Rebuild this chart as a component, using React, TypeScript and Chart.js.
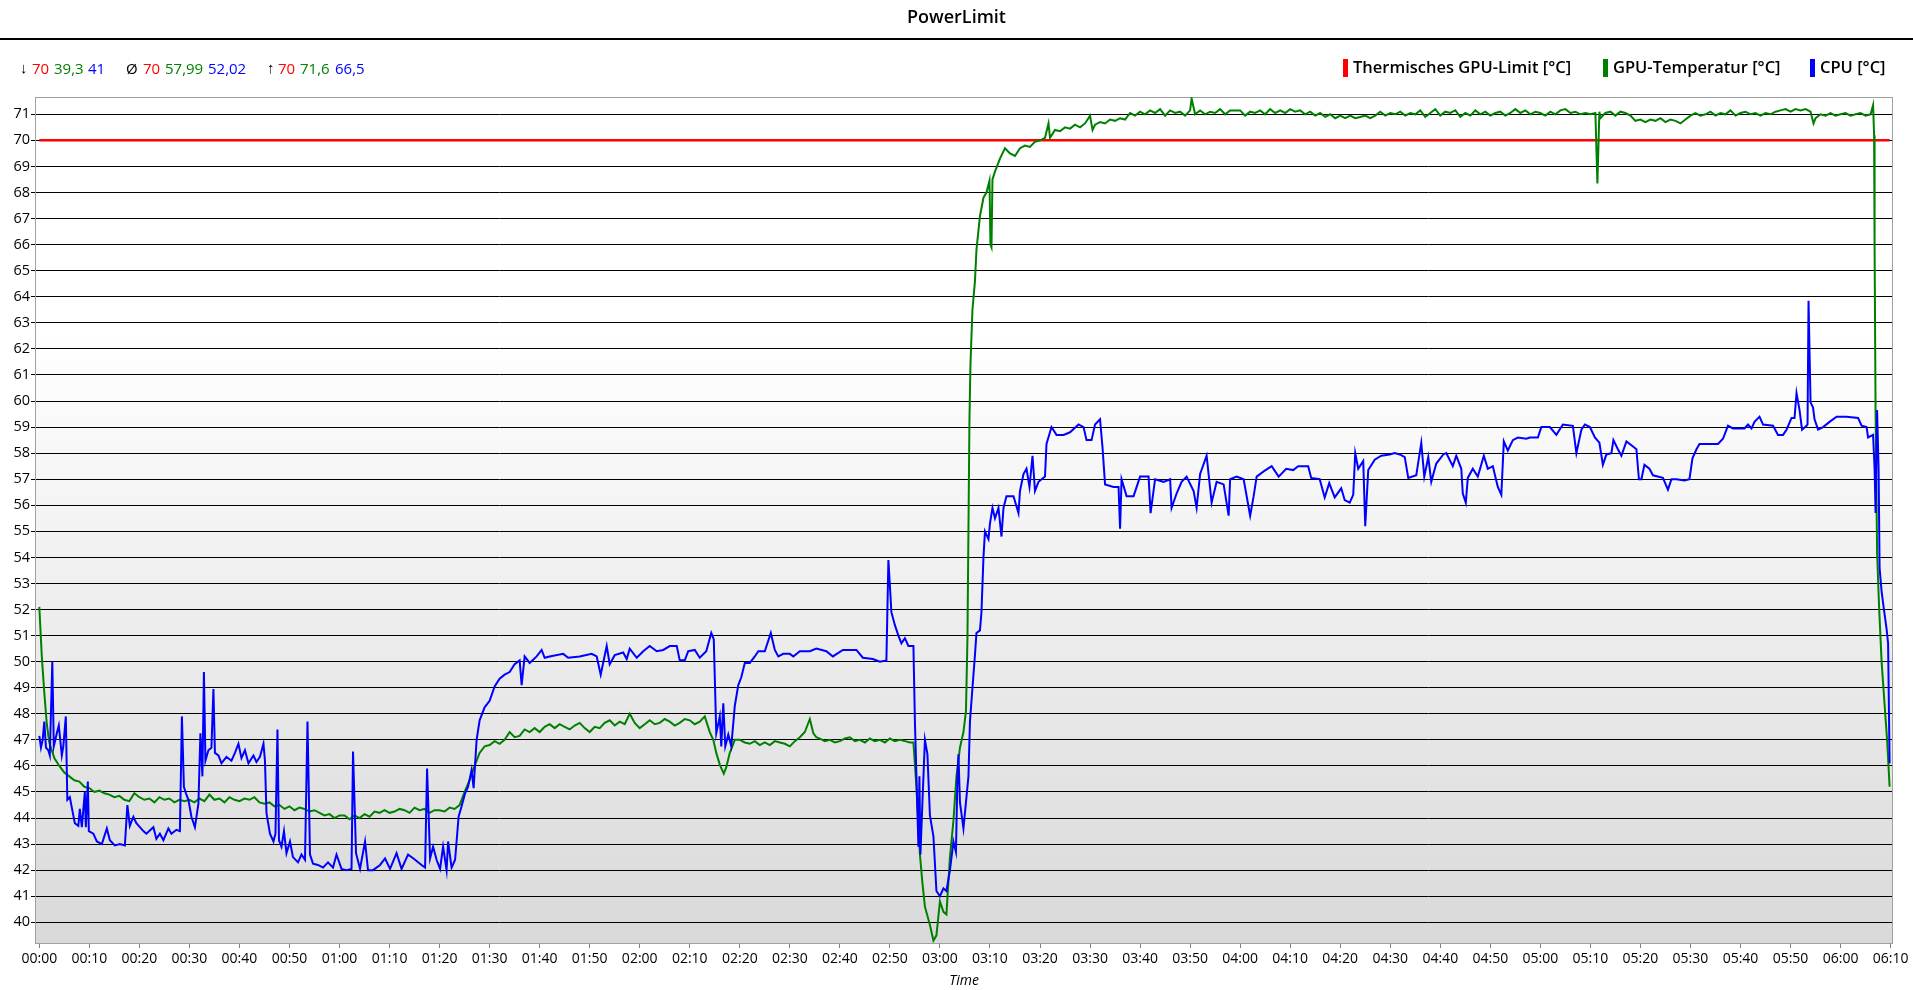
import React, { useEffect, useRef } from "react";
import { Chart, registerables } from "chart.js";

Chart.register(...registerables);

const FONT = '"Open Sans", "Noto Sans", "DejaVu Sans", sans-serif';
const ARROW_FONT = '"Liberation Sans", "Open Sans", sans-serif';

// ---- DATA ----
const xTickMinutes = [0, 10, 20, 30, 40, 50, 60, 70, 80, 90, 100, 110, 120, 130, 140, 150, 160, 170, 180, 190, 200, 210, 220, 230, 240, 250, 260, 270, 280, 290, 300, 310, 320, 330, 340, 350, 360, 370];
const yTickValues = [40, 41, 42, 43, 44, 45, 46, 47, 48, 49, 50, 51, 52, 53, 54, 55, 56, 57, 58, 59, 60, 61, 62, 63, 64, 65, 66, 67, 68, 69, 70, 71];

const seriesNames = ["Thermisches GPU-Limit [°C]", "GPU-Temperatur [°C]", "CPU [°C]"];
const seriesColors = ["#ff0000", "#008000", "#0000ff"];

const statSymbols = ["↓", "Ø", "↑"];
const statLimit = ["70", "70", "70"];
const statGpu = ["39,3", "57,99", "71,6"];
const statCpu = ["41", "52,02", "66,5"];

const limitTime = [0, 369.8];
const limitTemp = [70, 70];

const gpuTime = [
  0, 0.5, 1, 1.5, 2, 3, 4, 5, 6, 7, 8, 9, 10, 11, 12, 13, 14, 15, 16, 17, 18, 19, 20,
  21, 22, 23, 24, 25, 26, 27, 28, 29, 30, 31, 32, 33, 34, 35, 36, 37, 38, 39, 40,
  41, 42, 43, 44, 45, 46, 47, 48, 49, 50, 51, 52, 53, 54, 55, 56, 57, 58, 59, 60,
  61, 62, 63, 64, 65, 66, 67, 68, 69, 70, 71, 72, 73, 74, 75, 76, 77, 78, 79, 80,
  81, 82, 83, 84, 85, 86, 87, 88, 89, 90, 91, 92, 93, 94, 95, 96, 97, 98, 99, 100,
  101, 102, 103, 104, 105, 106, 107, 108, 109, 110, 111, 112, 113, 114, 115, 116, 117, 118, 119, 120,
  121, 122, 123, 124, 125, 126, 127, 128, 129, 130, 131, 132, 133,
  134, 134.7, 135.3, 136, 136.8, 137.3, 138, 139, 140, 141, 142, 143, 144, 145, 146, 147, 148, 149, 150,
  151, 152, 153, 154, 154.7, 155.3, 156, 157, 158, 159, 160, 161, 162, 163, 164, 165, 166, 167, 168, 169, 170,
  171, 172, 173, 174, 174.7, 175.3, 176, 176.5, 177, 178, 178.7, 179.3, 180, 180.7, 181.3, 182, 182.7, 183.3, 184, 184.7,
  185.2, 185.5, 185.7, 185.9, 186.1, 186.5, 187, 187.3, 188, 188.7, 189.3, 189.9, 190.1, 190.3, 190.5, 191, 192, 193, 194, 195,
  196, 197, 198, 199, 200, 201, 201.7, 202, 203, 204, 205, 206, 207, 208, 209, 210, 210.5, 211, 212, 213,
  214, 215, 216, 217, 218, 219, 220, 221, 222, 223, 224, 225, 226, 227, 228, 229, 230, 230.3, 231, 232,
  233, 234, 235, 236, 237, 238, 239, 240, 241, 242, 243, 244, 245, 246, 247, 248, 249, 250, 251, 252,
  253, 254, 255, 256, 257, 258, 259, 260, 261, 262, 263, 264, 265, 266, 267, 268, 269, 270, 271, 272,
  273, 274, 275, 276, 277, 278, 279, 280, 281, 282, 283, 284, 285, 286, 287, 288, 289, 290, 291, 292,
  293, 294, 295, 296, 297, 298, 299, 300, 301, 302, 303, 304, 305, 306, 307, 308, 309, 310, 311, 311.4,
  311.8, 312, 313, 314, 315, 316, 317, 318, 319, 320, 321, 322, 323, 324, 325, 326, 327, 328, 329, 330,
  331, 332, 333, 334, 335, 336, 337, 338, 339, 340, 341, 342, 343, 344, 345, 346, 347, 348, 349, 350,
  351, 352, 353, 354, 354.6, 355, 356, 357, 358, 359, 360, 361, 362, 363, 364, 365, 366, 366.5, 366.7, 366.8,
  367, 367.3, 367.7, 368.2, 368.8, 369.3, 369.8
];
const gpuTemp = [
  52.1, 50.2, 48.8, 47.6, 46.9, 46.3, 46.0, 45.75, 45.6, 45.45, 45.4, 45.2, 45.15, 45.0, 45.05, 44.95, 44.9, 44.8, 44.85, 44.7, 44.65, 44.95, 44.8,
  44.7, 44.75, 44.6, 44.8, 44.7, 44.75, 44.6, 44.7, 44.65, 44.7, 44.6, 44.75, 44.65, 44.9, 44.7, 44.75, 44.6, 44.8, 44.7, 44.65,
  44.75, 44.7, 44.8, 44.6, 44.55, 44.6, 44.45, 44.5, 44.35, 44.45, 44.3, 44.4, 44.35, 44.25, 44.3, 44.2, 44.1, 44.15, 44.0, 44.1,
  44.1, 43.95, 44.1, 44.0, 44.15, 44.05, 44.25, 44.2, 44.3, 44.2, 44.25, 44.35, 44.3, 44.2, 44.4, 44.3, 44.35, 44.2, 44.3, 44.3,
  44.25, 44.4, 44.35, 44.5, 45.0, 45.45, 46.0, 46.5, 46.75, 46.8, 46.95, 46.85, 47.0, 47.3, 47.1, 47.15, 47.4, 47.3, 47.45, 47.3,
  47.5, 47.6, 47.45, 47.6, 47.5, 47.4, 47.55, 47.65, 47.45, 47.3, 47.5, 47.45, 47.65, 47.75, 47.55, 47.7, 47.6, 48.0, 47.65, 47.45,
  47.6, 47.75, 47.6, 47.65, 47.8, 47.7, 47.55, 47.65, 47.8, 47.75, 47.6, 47.7, 47.9,
  47.3, 47.0, 46.5, 46.05, 45.7, 45.95, 46.5, 47.0, 47.0, 46.9, 46.85, 46.95, 46.8, 46.9, 46.8, 46.95, 46.9, 46.85, 46.75,
  46.95, 47.1, 47.3, 47.8, 47.25, 47.1, 47.05, 46.95, 47.0, 46.9, 46.95, 47.05, 47.1, 46.95, 47.0, 46.9, 47.05, 46.95, 47.0, 46.9, 47.05,
  46.95, 47.0, 46.95, 46.9, 46.9, 45.2, 42.6, 41.5, 40.6, 39.9, 39.3, 39.5, 40.8, 40.4, 40.3, 42.5, 43.9, 45.6, 46.7, 47.3,
  48.1, 50.9, 55.1, 59.3, 61.4, 63.5, 64.6, 65.8, 67.1, 67.8, 68.0, 68.45, 66.0, 65.9, 68.5, 68.8, 69.3, 69.7, 69.5, 69.4,
  69.7, 69.8, 69.75, 69.95, 70.0, 70.1, 70.65, 70.1, 70.4, 70.35, 70.5, 70.45, 70.6, 70.5, 70.65, 70.95, 70.4, 70.6, 70.7, 70.65,
  70.8, 70.75, 70.85, 70.8, 71.05, 70.95, 71.1, 71.0, 71.15, 71.05, 71.2, 70.95, 71.15, 71.05, 71.1, 70.95, 71.15, 71.6, 71.0, 71.15,
  71.0, 71.1, 71.05, 71.2, 71.0, 71.15, 71.15, 71.15, 70.95, 71.1, 71.05, 71.15, 71.0, 71.2, 71.05, 71.15, 71.05, 71.2, 71.1, 71.15,
  71.0, 71.1, 70.95, 71.05, 70.9, 71.0, 70.85, 70.95, 70.85, 70.95, 70.85, 70.9, 70.95, 70.85, 70.95, 71.1, 70.95, 71.05, 71.0, 71.1,
  70.95, 71.05, 71.0, 71.15, 70.9, 71.05, 71.2, 70.95, 71.1, 71.05, 71.15, 70.9, 71.05, 70.95, 71.15, 71.0, 71.1, 70.95, 71.05, 71.1,
  70.95, 71.05, 71.2, 71.05, 71.15, 71.0, 71.1, 71.05, 70.95, 71.1, 71.0, 71.15, 71.2, 71.05, 71.1, 71.0, 71.05, 71.0, 71.05, 68.35,
  71.1, 70.85, 71.05, 71.1, 70.95, 71.1, 71.05, 70.95, 70.75, 70.8, 70.7, 70.8, 70.75, 70.85, 70.7, 70.8, 70.75, 70.65, 70.8, 70.95,
  71.05, 70.95, 71.0, 71.1, 70.95, 71.05, 71.0, 71.15, 70.95, 71.05, 71.1, 71.0, 71.05, 70.95, 71.05, 71.0, 71.1, 71.15, 71.2, 71.1,
  71.2, 71.15, 71.2, 71.1, 70.65, 70.85, 71.0, 70.95, 71.05, 70.95, 71.0, 71.05, 70.95, 71.0, 71.05, 70.95, 71.0, 71.35, 70.2, 65.9,
  59.5, 54.2, 52.1, 50.0, 48.35, 47.0, 45.2
];

const cpuTime = [
  0, 0.33, 0.67, 1.0, 1.33, 1.8, 2.1, 2.6, 2.9, 3.5, 3.9, 4.5, 4.8, 5.3, 5.6, 6.1, 6.7, 7.1, 7.8, 8.1,
  8.5, 9.1, 9.3, 9.7, 9.9, 10.8, 11.5, 12.5, 13.5, 14.1, 15.1, 16.1, 17.1, 17.6, 18.1, 18.8, 19.4, 20.1, 20.8, 21.4,
  22.8, 23.4, 24.1, 24.8, 25.8, 26.4, 27.4, 28.1, 28.5, 28.9, 29.3, 29.8, 30.4, 31.1, 31.8, 32.2, 32.6, 32.9, 33.2, 33.8,
  34.4, 34.8, 35.1, 35.8, 36.4, 37.4, 38.4, 39.1, 39.8, 40.4, 41.1, 41.8, 42.8, 43.4, 44.1, 44.8, 45.1, 45.4, 46.1, 46.8,
  47.2, 47.6, 47.9, 48.4, 48.9, 49.4, 50.1, 50.7, 51.7, 52.4, 53.1, 53.6, 54.1, 54.7, 55.7, 56.7, 57.7, 58.7, 59.4, 60.4,
  61.4, 62.4, 62.7, 63.3, 64.1, 65.1, 65.7, 66.7, 68.1, 69.1, 70.1, 71.4, 72.4, 73.7, 75.1, 76.4, 77.1, 77.5, 78.1, 78.7,
  79.4, 80.1, 80.7, 81.4, 81.7, 82.4, 83.1, 83.8, 84.4, 85.1, 85.7, 86.4, 86.8, 87.4, 88.0, 89.0, 90.0, 91.0, 92.0, 93.0,
  94.0, 95.0, 96.0, 96.4, 97.0, 98.0, 99.4, 100.4, 101.0, 102.0, 104.7, 105.7, 108.0, 110.4, 111.4, 112.2, 113.4, 114.0, 115.0, 116.7,
  117.4, 118.0, 119.4, 120.7, 122.0, 123.4, 124.7, 126.0, 127.4, 128.0, 129.0, 129.7, 131.0, 132.0, 133.3, 134.3, 134.8, 135.3, 136.0, 136.3,
  136.7, 137.1, 137.7, 138.3, 139.0, 139.7, 140.3, 141.0, 142.0, 143.0, 143.7, 145.0, 146.2, 147.0, 147.7, 148.7, 150.0, 150.7, 152.0, 154.0,
  155.3, 157.3, 158.6, 160.6, 163.3, 164.6, 166.6, 168.0, 169.3, 169.7, 170.3, 171.0, 171.7, 172.3, 173.0, 173.7, 174.7, 175.0, 175.3, 175.7,
  175.9, 176.1, 176.5, 177.0, 177.5, 178.0, 178.7, 179.3, 180.0, 180.7, 181.3, 182.0, 182.7, 183.2, 183.5, 183.7, 184.0, 184.7, 185.2, 185.7,
  186.0, 186.5, 187.0, 187.3, 188.0, 188.3, 188.7, 189.0, 189.7, 190.0, 190.5, 191.0, 191.7, 192.3, 192.7, 193.3, 194.7, 195.7, 196.0, 196.7,
  197.3, 197.9, 198.5, 199.0, 199.7, 201.0, 201.3, 202.3, 203.3, 204.7, 206.0, 207.7, 208.7, 209.3, 210.3, 211.0, 212.0, 212.5, 213.0, 214.7,
  215.7, 216.0, 216.3, 217.3, 218.7, 220.0, 221.7, 222.1, 223.0, 224.7, 226.0, 226.3, 227.3, 228.3, 229.3, 230.7, 231.3, 232.0, 233.3, 234.3,
  235.3, 236.7, 237.7, 238.0, 239.3, 240.7, 242.0, 242.7, 243.3, 244.7, 246.3, 247.7, 249.2, 250.6, 251.6, 253.6, 254.2, 255.9, 256.9, 257.8,
  258.9, 260.2, 260.9, 261.9, 262.6, 263.0, 263.6, 264.6, 265.0, 265.6, 266.9, 268.2, 269.9, 270.9, 271.9, 272.9, 273.6, 275.2, 276.2, 276.8,
  277.6, 278.2, 279.2, 280.6, 281.2, 282.5, 283.2, 284.2, 284.5, 285.1, 285.5, 286.5, 287.5, 288.7, 289.5, 290.5, 291.5, 292.2, 292.7, 293.5,
  294.5, 295.5, 297.2, 297.9, 299.5, 300.2, 301.9, 303.2, 304.5, 306.5, 307.2, 308.2, 308.9, 309.9, 310.9, 311.8, 312.5, 313.2, 314.2, 314.6,
  315.5, 316.2, 317.2, 318.2, 319.2, 319.7, 320.2, 320.8, 321.8, 322.5, 324.5, 325.5, 326.2, 327.2, 328.8, 329.8, 330.4, 331.2, 331.8, 335.5,
  336.5, 337.2, 337.5, 338.5, 340.8, 341.5, 342.2, 342.8, 343.8, 344.5, 346.5, 347.5, 348.5, 349.2, 350.2, 350.8, 351.2, 351.8, 352.3, 353.2,
  353.4, 353.6, 354.0, 354.5, 354.8, 355.5, 356.5, 357.8, 359.2, 361.2, 363.5, 364.2, 365.2, 365.5, 366.5, 366.8, 367.0, 367.3, 367.6, 367.8,
  368.2, 368.6, 369.2, 369.5, 369.8
];
const cpuTemp = [
  47.15, 46.7, 47.0, 47.7, 46.7, 46.6, 46.4, 50.0, 46.75, 47.25, 47.55, 46.4, 46.75, 47.9, 44.7, 44.8, 44.2, 43.8, 43.7, 44.35,
  43.65, 45.0, 43.65, 45.4, 43.5, 43.4, 43.1, 43.0, 43.6, 43.15, 42.95, 43.0, 42.95, 44.5, 43.7, 44.05, 43.8, 43.65, 43.5, 43.4,
  43.65, 43.2, 43.4, 43.15, 43.6, 43.4, 43.55, 43.5, 47.9, 45.2, 44.95, 44.7, 44.05, 43.65, 44.55, 47.25, 45.6, 49.6, 46.2, 46.6,
  46.7, 48.95, 46.5, 46.4, 46.1, 46.35, 46.2, 46.5, 46.85, 46.3, 46.6, 46.1, 46.4, 46.15, 46.35, 46.85, 46.2, 44.2, 43.4, 43.1,
  43.4, 47.4, 43.15, 42.9, 43.5, 42.65, 43.1, 42.5, 42.3, 42.6, 42.4, 47.7, 42.6, 42.25, 42.2, 42.1, 42.3, 42.1, 42.6, 42.05,
  42.0, 42.05, 46.55, 42.65, 42.05, 43.1, 42.0, 42.0, 42.2, 42.45, 42.05, 42.65, 42.05, 42.6, 42.4, 42.2, 42.1, 45.9, 42.45, 42.9,
  42.4, 42.05, 42.9, 42.0, 43.1, 42.1, 42.4, 44.05, 44.45, 44.95, 45.2, 45.85, 45.15, 47.0, 47.75, 48.25, 48.5, 49.05, 49.35, 49.5,
  49.6, 49.9, 50.05, 49.1, 50.2, 49.95, 50.2, 50.45, 50.15, 50.2, 50.3, 50.15, 50.2, 50.3, 50.2, 49.5, 50.6, 49.9, 50.25, 50.35,
  50.1, 50.5, 50.15, 50.4, 50.6, 50.4, 50.45, 50.6, 50.6, 50.05, 50.05, 50.4, 50.45, 50.15, 50.4, 51.1, 50.85, 47.25, 47.9, 46.75,
  48.4, 46.75, 47.2, 46.75, 48.3, 49.1, 49.4, 49.95, 49.95, 50.2, 50.4, 50.4, 51.1, 50.45, 50.2, 50.3, 50.3, 50.2, 50.4, 50.4,
  50.5, 50.4, 50.2, 50.45, 50.45, 50.15, 50.1, 50.0, 50.05, 53.9, 51.9, 51.4, 51.0, 50.7, 50.9, 50.6, 50.6, 47.7, 45.6, 42.9,
  45.6, 42.6, 44.6, 47.0, 46.45, 44.1, 43.3, 41.2, 41.0, 41.3, 41.2, 42.0, 43.1, 42.7, 45.6, 46.45, 44.6, 43.6, 44.6, 45.6,
  47.7, 49.0, 50.25, 51.1, 51.2, 51.9, 54.0, 55.0, 54.7, 55.3, 55.9, 55.5, 55.9, 54.8, 55.9, 56.35, 56.35, 55.7, 56.55, 57.2,
  57.4, 56.7, 57.9, 56.55, 56.9, 57.1, 58.35, 59.0, 58.7, 58.7, 58.8, 59.1, 59.0, 58.5, 58.5, 59.1, 59.3, 58.2, 56.8, 56.7,
  56.7, 55.1, 57.0, 56.35, 56.35, 57.1, 57.1, 55.7, 57.0, 56.9, 57.0, 55.9, 56.45, 56.9, 57.1, 56.55, 55.9, 57.2, 57.9, 56.1,
  56.9, 56.8, 55.6, 57.0, 57.1, 57.0, 55.6, 56.35, 57.1, 57.3, 57.5, 57.1, 57.4, 57.35, 57.5, 57.5, 57.05, 57.0, 56.3, 56.85,
  56.3, 56.65, 56.2, 56.1, 56.4, 58.0, 57.4, 57.7, 55.2, 57.35, 57.75, 57.9, 57.95, 58.0, 57.95, 57.85, 57.05, 57.15, 58.4, 57.1,
  57.85, 56.9, 57.6, 57.95, 58.0, 57.5, 57.9, 57.4, 56.45, 56.1, 57.05, 57.4, 57.1, 57.9, 57.4, 57.5, 56.7, 56.4, 58.45, 58.1,
  58.5, 58.6, 58.55, 58.6, 58.6, 59.0, 59.0, 58.7, 59.1, 59.05, 58.0, 58.9, 59.1, 59.0, 58.6, 58.4, 57.55, 57.95, 58.0, 58.5,
  58.15, 57.9, 58.45, 58.3, 58.15, 57.0, 57.0, 57.55, 57.4, 57.15, 57.05, 56.6, 57.0, 57.0, 56.95, 57.0, 57.8, 58.15, 58.35, 58.35,
  58.55, 58.9, 59.05, 58.95, 58.95, 59.1, 58.95, 59.2, 59.4, 59.1, 59.05, 58.7, 58.7, 58.9, 59.35, 59.35, 60.3, 59.65, 58.9, 59.05,
  59.1, 63.85, 59.95, 59.75, 59.3, 58.9, 59.0, 59.2, 59.4, 59.4, 59.35, 59.05, 59.0, 58.6, 58.7, 57.4, 55.7, 59.65, 57.4, 53.6,
  52.7, 52.1, 51.25, 50.7, 46.1
];

// ---- layout constants ----
const W = 1913;
const H = 990;
const AREA_LEFT = 35;
const AREA_TOP = 97;
const AREA_RIGHT = 1893;
const AREA_BOTTOM = 943;

const fmtTime = (m: number) => {
  const h = Math.floor(m / 60);
  const mm = Math.round(m - h * 60);
  return String(h).padStart(2, "0") + ":" + String(mm).padStart(2, "0");
};

const toPoints = (t: number[], v: number[]) => t.map((x, i) => ({ x, y: v[i] }));

const backgroundPlugin = {
  id: "plotBackground",
  beforeDraw(chart: any) {
    const { ctx, chartArea } = chart;
    if (!chartArea) return;
    const { left, top, right, bottom } = chartArea;
    const g = ctx.createLinearGradient(0, top, 0, bottom);
    g.addColorStop(0, "#ffffff");
    g.addColorStop(0.28, "#ffffff");
    g.addColorStop(1, "#d9d9d9");
    ctx.save();
    ctx.fillStyle = g;
    ctx.fillRect(left, top, right - left, bottom - top);
    ctx.restore();
  },
};

const framePlugin = {
  id: "plotFrame",
  beforeDatasetsDraw(chart: any) {
    const { ctx, chartArea } = chart;
    const { left, top, right, bottom } = chartArea;
    ctx.save();
    ctx.strokeStyle = "#a0a0a0";
    ctx.lineWidth = 1;
    ctx.strokeRect(Math.round(left) + 0.5, Math.round(top) + 0.5, Math.round(right - left) - 1, Math.round(bottom - top));
    ctx.restore();
  },
};

function ChartCanvas() {
  const ref = useRef<HTMLCanvasElement | null>(null);
  useEffect(() => {
    if (!ref.current) return;
    const chart = new Chart(ref.current, {
      type: "line",
      data: {
        datasets: [
          {
            label: seriesNames[0],
            data: toPoints(limitTime, limitTemp),
            borderColor: seriesColors[0],
            borderWidth: 2.5,
            pointRadius: 0,
            tension: 0,
            fill: false,
            order: 3,
          },
          {
            label: seriesNames[1],
            data: toPoints(gpuTime, gpuTemp),
            borderColor: seriesColors[1],
            borderWidth: 2,
            pointRadius: 0,
            tension: 0,
            fill: false,
            order: 2,
          },
          {
            label: seriesNames[2],
            data: toPoints(cpuTime, cpuTemp),
            borderColor: seriesColors[2],
            borderWidth: 2,
            pointRadius: 0,
            tension: 0,
            fill: false,
            order: 1,
          },
        ],
      },
      options: {
        responsive: false,
        animation: false,
        devicePixelRatio: 1,
        layout: { padding: { top: AREA_TOP, right: W - AREA_RIGHT, left: 0, bottom: 0 } },
        plugins: {
          legend: { display: false },
          title: { display: false },
          tooltip: { enabled: false },
        },
        scales: {
          x: {
            type: "linear",
            min: -0.86,
            max: 370.48,
            afterBuildTicks: (s: any) => {
              s.ticks = xTickMinutes.map((v) => ({ value: v }));
            },
            afterFit: (s: any) => {
              s.height = H - AREA_BOTTOM;
            },
            border: { display: false },
            grid: { drawOnChartArea: false, drawTicks: true, tickLength: 5, color: "#808080", lineWidth: 1 },
            ticks: {
              autoSkip: false,
              maxRotation: 0,
              minRotation: 0,
              padding: 3,
              color: "#000",
              font: { family: FONT, size: 14 },
              callback: (v: any) => fmtTime(Number(v)),
            },
            title: {
              display: true,
              text: "Time",
              color: "#000",
              font: { family: FONT, size: 14, style: "italic" },
              padding: { top: 0, bottom: 1 },
            },
          },
          y: {
            type: "linear",
            min: 39.206,
            max: 71.664,
            afterBuildTicks: (s: any) => {
              s.ticks = yTickValues.map((v) => ({ value: v }));
            },
            afterFit: (s: any) => {
              s.width = AREA_LEFT;
            },
            border: { display: false },
            grid: { color: "#000", lineWidth: 1, drawTicks: true, tickLength: 4 },
            ticks: {
              autoSkip: false,
              padding: 1,
              color: "#000",
              font: { family: FONT, size: 14.5 },
              callback: (v: any) => String(v),
            },
          },
        },
      },
      plugins: [backgroundPlugin, framePlugin],
    } as any);
    return () => chart.destroy();
  }, []);
  return <canvas ref={ref} width={W} height={H} style={{ position: "absolute", left: 0, top: 0, width: W, height: H }} />;
}

const statLefts = [
  [20, 32, 54, 88],
  [126, 143, 165, 208],
  [267, 278, 300, 335],
];
const legendBarLefts = [1343, 1603, 1810];

export default function App() {
  const textBase: React.CSSProperties = {
    position: "absolute",
    fontFamily: FONT,
    fontSize: 15,
    lineHeight: "20px",
    whiteSpace: "nowrap",
  };
  return (
    <div style={{ position: "fixed", left: 0, top: 0, width: W, height: H, background: "#fff", overflow: "hidden" }}>
      <ChartCanvas />
      <div
        style={{
          position: "absolute",
          left: 0,
          top: 4,
          width: W,
          textAlign: "center",
          fontFamily: FONT,
          fontSize: 18,
          fontWeight: 600,
          lineHeight: "24px",
          color: "#000",
        }}
      >
        PowerLimit
      </div>
      <div style={{ position: "absolute", left: 0, top: 38, width: W, height: 2, background: "#000" }} />
      {statSymbols.map((sym, i) => (
        <React.Fragment key={i}>
          <span style={{ ...textBase, fontFamily: sym === "Ø" ? FONT : ARROW_FONT, left: statLefts[i][0], top: 58, color: "#000" }}>{sym}</span>
          <span style={{ ...textBase, left: statLefts[i][1], top: 58, color: seriesColors[0] }}>{statLimit[i]}</span>
          <span style={{ ...textBase, left: statLefts[i][2], top: 58, color: seriesColors[1] }}>{statGpu[i]}</span>
          <span style={{ ...textBase, left: statLefts[i][3], top: 58, color: seriesColors[2] }}>{statCpu[i]}</span>
        </React.Fragment>
      ))}
      {seriesNames.map((name, i) => (
        <React.Fragment key={"l" + i}>
          <div
            style={{
              position: "absolute",
              left: legendBarLefts[i],
              top: 59,
              width: 5,
              height: 18,
              background: seriesColors[i],
            }}
          />
          <span style={{ ...textBase, left: legendBarLefts[i] + 10, top: 57, fontSize: 16.5, fontWeight: 600, color: "#000" }}>
            {name}
          </span>
        </React.Fragment>
      ))}
    </div>
  );
}
